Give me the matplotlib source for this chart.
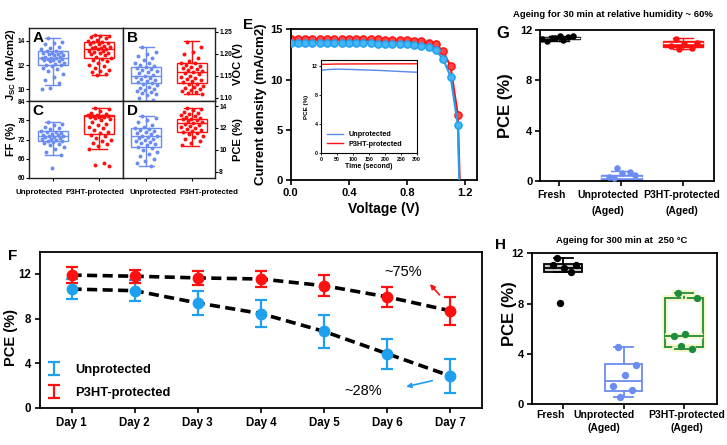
import numpy as np
import matplotlib
import matplotlib.pyplot as plt
import matplotlib.patheffects as pe
import matplotlib.transforms as mtransforms

matplotlib.use('Agg')

W, H = 727, 445

# ---------------- data ----------------
# A-D : box statistics (q1, median, q3, whisker low, whisker high) and device points
jsc_unprot_stats = (12.0, 12.6, 13.2, 10.4, 14.2)
jsc_p3ht_stats = (12.6, 13.3, 13.9, 11.2, 14.5)
jsc_unprot = [14.2, 13.9, 13.8, 13.7, 13.5, 13.4, 13.3, 13.2, 13.2, 13.1, 13.0, 13.0, 12.9, 12.9,
              12.8, 12.8, 12.7, 12.7, 12.6, 12.6, 12.6, 12.5, 12.5, 12.4, 12.4, 12.3, 12.3, 12.2,
              12.1, 12.0, 12.0, 11.9, 11.8, 11.7, 11.5, 11.3, 11.0, 10.8, 10.5, 10.1, 10.0]
jsc_p3ht = [14.5, 14.4, 14.4, 14.3, 14.2, 14.1, 14.0, 13.9, 13.9, 13.8, 13.7, 13.7, 13.6, 13.5,
            13.5, 13.4, 13.4, 13.3, 13.3, 13.2, 13.2, 13.1, 13.0, 13.0, 12.9, 12.8, 12.7, 12.6,
            12.5, 12.4, 12.3, 12.2, 12.0, 11.9, 11.8, 11.6, 11.5, 11.4, 11.3, 11.2]

voc_unprot_stats = (1.133, 1.150, 1.170, 1.092, 1.216)
voc_p3ht_stats = (1.133, 1.158, 1.178, 1.107, 1.229)
voc_unprot = [1.215, 1.205, 1.200, 1.195, 1.190, 1.185, 1.180, 1.178, 1.175, 1.172, 1.170, 1.168,
              1.165, 1.162, 1.160, 1.158, 1.155, 1.152, 1.150, 1.148, 1.145, 1.143, 1.140, 1.138,
              1.135, 1.133, 1.130, 1.128, 1.125, 1.122, 1.120, 1.118, 1.115, 1.112, 1.110, 1.108,
              1.105, 1.100, 1.095]
voc_p3ht = [1.228, 1.215, 1.205, 1.200, 1.190, 1.183, 1.180, 1.178, 1.175, 1.172, 1.170, 1.168,
            1.165, 1.162, 1.160, 1.158, 1.156, 1.153, 1.150, 1.148, 1.145, 1.142, 1.140, 1.137,
            1.135, 1.132, 1.130, 1.127, 1.125, 1.122, 1.120, 1.117, 1.115, 1.112, 1.110, 1.108]

ff_unprot_stats = (71.5, 73.0, 74.6, 67.1, 77.4)
ff_p3ht_stats = (73.8, 79.3, 79.8, 69.1, 81.9)
ff_unprot = [77.4, 77.0, 76.5, 76.0, 75.5, 75.2, 74.8, 74.5, 74.3, 74.0, 73.8, 73.6, 73.4, 73.2,
             73.0, 72.9, 72.7, 72.5, 72.3, 72.1, 71.9, 71.7, 71.5, 71.2, 71.0, 70.6, 70.2, 69.8,
             69.0, 68.2, 67.2, 63.0]
ff_p3ht = [81.9, 81.5, 81.0, 80.5, 80.0, 79.8, 79.6, 79.5, 79.4, 79.3, 79.2, 79.1, 79.0, 78.8,
           78.5, 78.0, 77.5, 77.0, 76.5, 76.0, 75.5, 75.0, 74.5, 74.0, 73.5, 73.0, 72.5, 72.0,
           71.5, 71.0, 70.5, 70.0, 69.2, 64.8, 64.2, 63.7]

pce_unprot_stats = (10.3, 11.3, 11.95, 8.55, 13.1)
pce_p3ht_stats = (11.6, 12.45, 12.85, 10.35, 13.85)
pce_unprot = [13.1, 12.9, 12.7, 12.5, 12.3, 12.1, 12.0, 11.9, 11.8, 11.7, 11.6, 11.5, 11.4, 11.3,
              11.25, 11.2, 11.1, 11.0, 10.9, 10.8, 10.7, 10.6, 10.5, 10.4, 10.3, 10.2, 10.0, 9.8,
              9.6, 9.4, 9.2, 9.0, 8.8, 8.55]
pce_p3ht = [13.85, 13.7, 13.6, 13.5, 13.4, 13.3, 13.2, 13.1, 13.0, 12.9, 12.85, 12.8, 12.7, 12.6,
            12.5, 12.45, 12.4, 12.3, 12.2, 12.1, 12.0, 11.9, 11.8, 11.7, 11.6, 11.5, 11.4, 11.3,
            11.2, 11.0, 10.8, 10.6, 10.4]

# E : J-V curves
voltage = [0.00, 0.05, 0.10, 0.15, 0.20, 0.25, 0.30, 0.35, 0.40, 0.45, 0.50, 0.55, 0.60, 0.65,
           0.70, 0.75, 0.80, 0.85, 0.90, 0.95, 1.00, 1.05, 1.10, 1.15]
j_unprot = [13.65, 13.65, 13.65, 13.64, 13.64, 13.63, 13.63, 13.62, 13.62, 13.61, 13.60, 13.60,
            13.58, 13.57, 13.55, 13.53, 13.50, 13.45, 13.35, 13.20, 12.90, 12.00, 10.30, 5.50]
j_p3ht = [14.05, 14.05, 14.05, 14.04, 14.04, 14.03, 14.03, 14.02, 14.02, 14.01, 14.00, 14.00,
          13.99, 13.98, 13.96, 13.94, 13.92, 13.88, 13.80, 13.67, 13.50, 12.80, 11.30, 6.50]
voc_unprot_cell = 1.160
voc_p3ht_cell = 1.163

# E inset : PCE tracking
time_s = [0, 25, 50, 75, 100, 125, 150, 175, 200, 225, 250, 275, 300]
track_unprot = [11.40, 11.50, 11.55, 11.52, 11.50, 11.45, 11.42, 11.38, 11.33, 11.28, 11.22, 11.17, 11.12]
track_p3ht = [12.20, 12.22, 12.25, 12.25, 12.26, 12.26, 12.27, 12.27, 12.28, 12.28, 12.28, 12.28, 12.28]

# F : stability over days
days = ['Day 1', 'Day 2', 'Day 3', 'Day 4', 'Day 5', 'Day 6', 'Day 7']
f_unprot = [10.65, 10.5, 9.4, 8.45, 6.85, 4.85, 2.85]
f_unprot_err = [0.9, 0.95, 1.1, 1.2, 1.45, 1.35, 1.5]
f_p3ht = [11.9, 11.8, 11.65, 11.55, 10.95, 9.95, 8.7]
f_p3ht_err = [0.7, 0.6, 0.6, 0.7, 0.95, 0.9, 1.25]

# G : humidity ageing
g_cats = ['Fresh', 'Unprotected\n(Aged)', 'P3HT-protected\n(Aged)']
g_stats = [(11.3, 11.38, 11.45, 11.15, 11.55), (0.1, 0.35, 0.5, 0.0, 0.8), (10.65, 10.95, 11.15, 10.5, 11.4)]
g_points = [[11.34, 11.5, 11.55, 11.13, 11.47, 11.4, 11.3, 11.2],
            [0.25, 0.45, 0.6, 0.35, 0.7, 1.05],
            [11.3, 11.0, 10.85, 10.7, 10.6, 10.5]]

# H : thermal ageing
h_cats = ['Fresh', 'Unprotected\n(Aged)', 'P3HT-protected\n(Aged)']
h_stats = [(10.54, 10.86, 11.12, 10.54, 11.6), (1.06, 1.86, 3.16, 0.53, 4.54), (4.52, 5.44, 8.41, 4.38, 8.81)]
h_points = [[11.6, 11.1, 10.85, 11.05, 10.55, 8.07],
            [4.54, 3.14, 2.29, 1.41, 1.15, 0.53],
            [8.81, 8.41, 5.57, 5.4, 4.38, 4.6]]

# ---------------- style ----------------
BLUE_BOX = '#6B8CF0'
RED = '#FF1010'
BLUE = '#1EA0EE'
GREEN = '#1E8C3C'

plt.rcParams['font.family'] = ['Liberation Sans', 'DejaVu Sans']
plt.rcParams['font.weight'] = 'bold'
plt.rcParams['axes.labelweight'] = 'bold'
plt.rcParams['mathtext.fontset'] = 'custom'
plt.rcParams['mathtext.bf'] = 'Liberation Sans:bold'
plt.rcParams['mathtext.rm'] = 'Liberation Sans:bold'
plt.rcParams['mathtext.default'] = 'bf'


def rect(l, t, r, b):
    return [l / W, 1 - b / H, (r - l) / W, (b - t) / H]


def box_stats(s):
    q1, med, q3, lo, hi = s
    return dict(q1=q1, med=med, q3=q3, whislo=lo, whishi=hi, fliers=[])


def jitter(n, spread):
    return ((np.arange(n) * 0.618034 + 0.3) % 1 - 0.5) * spread


def draw_box(ax, pos, s, pts, color, width, face='none', pt_size=8, spread=0.5, lw=1.0,
             med_color=None, effects=None):
    art = ax.bxp([box_stats(s)], positions=[pos], widths=width, showfliers=False, patch_artist=True,
                 boxprops=dict(facecolor=face, edgecolor=color, lw=lw),
                 whiskerprops=dict(color=color, lw=lw), capprops=dict(color=color, lw=lw),
                 medianprops=dict(color=med_color or color, lw=lw))
    if effects:
        for k in ('boxes', 'whiskers', 'caps', 'medians'):
            for a in art[k]:
                a.set_path_effects(effects)
    ax.scatter(pos + jitter(len(pts), spread), pts, s=pt_size, color=color, zorder=3, lw=0)


def ylabel_at(ax, text, x, y=0.5, size=9, right=False):
    if right:
        ax.yaxis.set_label_position('right')
    ax.set_ylabel(text, fontsize=size, va='center', rotation=90)
    ax.yaxis.set_label_coords(x, y)


def category_labels(ax, cats, xs, y, spacing, size=7.5):
    # labels sit a little left of the ticks, as in the original figure
    ax.set_xticklabels([])
    tr = mtransforms.blended_transform_factory(ax.transData, ax.transAxes)
    for x, c in zip(xs, cats):
        ax.text(x, y, c, transform=tr, ha='center', va='top', fontsize=size,
                linespacing=spacing, clip_on=False)


fig = plt.figure(figsize=(W / 100, H / 100), dpi=100)

# ---------------- A-D ----------------
panels = [
    ('A', rect(29, 28, 123, 101), jsc_unprot_stats, jsc_p3ht_stats, jsc_unprot, jsc_p3ht,
     (9.05, 15.05), [10, 12, 14], 'J$_{SC}$ (mA/cm2)', False, '%d'),
    ('B', rect(123, 28, 215, 101), voc_unprot_stats, voc_p3ht_stats, voc_unprot, voc_p3ht,
     (1.092, 1.259), [1.10, 1.15, 1.20, 1.25], 'VOC (V)', True, '%.2f'),
    ('C', rect(29, 101, 123, 178), ff_unprot_stats, ff_p3ht_stats, ff_unprot, ff_p3ht,
     (60, 84.1), [60, 66, 72, 78, 84], 'FF (%)', False, '%d'),
    ('D', rect(123, 101, 215, 178), pce_unprot_stats, pce_p3ht_stats, pce_unprot, pce_p3ht,
     (7.42, 14.46), [8, 10, 12, 14], 'PCE (%)', True, '%d'),
]
for letter, r, s1, s2, p1, p2, ylim, yt, lab, right, fmt in panels:
    ax = fig.add_axes(r)
    draw_box(ax, 1, s1, p1, BLUE_BOX, 0.65, spread=0.5)
    draw_box(ax, 2, s2, p2, RED, 0.65, spread=0.5)
    ax.set_xlim(0.49, 2.51)
    ax.set_ylim(*ylim)
    ax.set_yticks(yt)
    ax.yaxis.set_major_formatter(matplotlib.ticker.FormatStrFormatter(fmt))
    if right:
        ax.yaxis.tick_right()
    ax.tick_params(axis='y', labelsize=4.8, length=2, width=0.8, direction='out', pad=1)
    if letter in 'CD':
        ax.set_xticks([1, 2])
        ax.set_xticklabels([])
        ax.tick_params(axis='x', length=2.5, width=0.8)
    else:
        ax.set_xticks([])
    for sp in ax.spines.values():
        sp.set_linewidth(1.0)
        sp.set_color('#222222')
    ylabel_at(ax, lab, 1.245 if right else -0.19, size=8, right=right)
    ax.text(0.04, 0.96, letter, transform=ax.transAxes, ha='left', va='top', fontsize=11)

for x, t in [(39.5, 'Unprotected'), (95.5, 'P3HT-protected'), (153, 'Unprotected'), (209, 'P3HT-protected')]:
    fig.text(x / W, 1 - 193 / H, t, ha='center', va='center', fontsize=5.8)

# ---------------- E ----------------
ax = fig.add_axes(rect(290.7, 29.3, 476.7, 180))
ax.plot(voltage + [voc_p3ht_cell], j_p3ht + [0], color=RED, lw=1.5, marker='o', ms=5.2,
        markevery=slice(0, len(voltage)), mec=RED, mfc='#FF4545', zorder=2)
ax.plot(voltage + [voc_unprot_cell], j_unprot + [0], color=BLUE, lw=1.5, marker='o', ms=5.2,
        markevery=slice(0, len(voltage)), mec=BLUE, mfc='#45B5F5', zorder=3)
ax.set_xlim(0, 1.28)
ax.set_ylim(0, 15)
ax.set_xticks([0, 0.4, 0.8, 1.2])
ax.set_xticklabels(['0.0', '0.4', '0.8', '1.2'])
ax.set_yticks([0, 5, 10, 15])
ax.tick_params(labelsize=8, length=3.5, width=1.2, pad=2)
for sp in ax.spines.values():
    sp.set_linewidth(1.3)
ax.set_xlabel('Voltage (V)', fontsize=10, va='center')
ax.xaxis.set_label_coords(0.5, -0.19)
ylabel_at(ax, 'Current density (mA/cm2)', -0.16, size=9.5)
fig.text(243 / W, 1 - 25 / H, 'E', fontsize=11, ha='left', va='center')

ins = fig.add_axes(rect(321, 60, 416.7, 153.3))
ins.plot(time_s, track_unprot, color='#5A86EE', lw=1.0, label='Unprotected')
ins.plot(time_s, track_p3ht, color=RED, lw=1.0, label='P3HT-protected')
ins.set_xlim(0, 300)
ins.set_ylim(0, 12.8)
ins.set_xticks([0, 50, 100, 150, 200, 250, 300])
ins.set_yticks([0, 4, 8, 12])
ins.tick_params(labelsize=3.8, length=1.5, width=0.6, pad=1)
for sp in ins.spines.values():
    sp.set_linewidth(0.8)
ins.set_xlabel('Time (second)', fontsize=5, labelpad=1)
ins.set_ylabel('PCE (%)', fontsize=4.5, labelpad=2)
ins.legend(loc='lower left', frameon=False, handlelength=2.2, borderaxespad=0.4,
           labelspacing=0.3, prop=dict(size=5.2, weight='bold'))

# ---------------- F ----------------
ax = fig.add_axes(rect(40, 251.7, 481.7, 407.7))
xd = np.arange(1, len(days) + 1)
ax.plot(xd, f_p3ht, color='k', lw=2.6, ls=(0, (2.8, 1.5)), zorder=2)
ax.plot(xd, f_unprot, color='k', lw=2.6, ls=(0, (2.8, 1.5)), zorder=2)
ax.errorbar(xd, f_unprot, yerr=f_unprot_err, fmt='none', ecolor=BLUE, elinewidth=1.6, capsize=4,
            capthick=1.6, label='Unprotected', zorder=3)
ax.errorbar(xd, f_p3ht, yerr=f_p3ht_err, fmt='none', ecolor=RED, elinewidth=1.6, capsize=4,
            capthick=1.6, label='P3HT-protected', zorder=3)
ax.plot(xd, f_unprot, 'o', color=BLUE, ms=7.5, zorder=4)
ax.plot(xd, f_p3ht, 'o', color=RED, ms=7.5, zorder=4)
ax.set_xlim(0.5, 7.5)
ax.set_ylim(0, 14)
ax.set_xticks(xd)
ax.set_xticklabels(days)
ax.set_yticks([0, 4, 8, 12])
ax.tick_params(labelsize=8.3, length=3.5, width=1.2, pad=3)
for sp in ax.spines.values():
    sp.set_linewidth(1.3)
ylabel_at(ax, 'PCE (%)', -0.065, 0.45, size=10.5)
ax.legend(loc='lower left', frameon=False, fontsize=9.3, handlelength=0.8, handletextpad=1.2,
          labelspacing=0.8, borderaxespad=0.3)
ax.text(6.25, 12.2, '~75%', fontsize=10.5, fontweight='normal', ha='center', va='center')
ax.text(5.62, 1.52, '~28%', fontsize=10.5, fontweight='normal', ha='center', va='center')
ax.annotate('', xy=(6.65, 11.28), xytext=(6.86, 9.94),
            arrowprops=dict(arrowstyle='-|>', color=RED, lw=1.2, mutation_scale=7))
ax.annotate('', xy=(6.26, 1.83), xytext=(6.76, 2.48),
            arrowprops=dict(arrowstyle='-|>', color=BLUE, lw=1.2, mutation_scale=7))
fig.text(8 / W, 1 - 256 / H, 'F', fontsize=11, ha='left', va='center')

# ---------------- G ----------------
ax = fig.add_axes(rect(540, 30, 714, 181))
g_colors = ['k', BLUE_BOX, RED]
for i, (s, pts, c) in enumerate(zip(g_stats, g_points, g_colors)):
    draw_box(ax, i + 1, s, pts, c, 0.66, face=c, pt_size=22, spread=0.55, med_color='white')
ax.set_xlim(0.69, 3.5)
ax.set_ylim(0, 12)
ax.set_yticks([0, 4, 8, 12])
ax.set_xticks([1, 2, 3])
category_labels(ax, g_cats, [0.88, 1.79, 2.98], -0.06, 1.7)
ax.tick_params(axis='y', labelsize=8, length=3.5, width=1.2, pad=2)
ax.tick_params(axis='x', length=3.5, width=1.2, pad=3)
for sp in ax.spines.values():
    sp.set_linewidth(1.3)
ylabel_at(ax, 'PCE (%)', -0.2, size=12)
ax.text(0.418, 1.1, 'Ageing for 30 min at relative humidity ~ 60%', transform=ax.transAxes,
        ha='center', va='center', fontsize=6.8)
fig.text(503 / W, 1 - 33 / H, 'G', fontsize=12, ha='center', va='center')

# ---------------- H ----------------
ax = fig.add_axes(rect(531.7, 253.3, 716.7, 404))
glow = [pe.withStroke(linewidth=4, foreground='#F6F6C8')]
h_colors = ['k', BLUE_BOX, GREEN]
h_faces = ['#C8C8C8', 'none', 'none']
for i, (s, pts, c, f) in enumerate(zip(h_stats, h_points, h_colors, h_faces)):
    draw_box(ax, i + 1, s, pts, c, 0.62, face=f, pt_size=28, spread=0.5, lw=1.3,
             effects=glow if c == GREEN else None)
ax.set_xlim(0.48, 3.54)
ax.set_ylim(0, 12)
ax.set_yticks([0, 4, 8, 12])
ax.set_xticks([1, 2, 3])
category_labels(ax, h_cats, [0.785, 1.67, 3.045], -0.04, 1.35)
ax.tick_params(axis='y', labelsize=8, length=3.5, width=1.2, pad=2)
ax.tick_params(axis='x', length=3.5, width=1.2, pad=3)
for sp in ax.spines.values():
    sp.set_linewidth(1.3)
ylabel_at(ax, 'PCE (%)', -0.12, 0.6, size=12)
ax.text(0.486, 1.082, 'Ageing for 300 min at  250 °C', transform=ax.transAxes,
        ha='center', va='center', fontsize=6.8)
fig.text(500 / W, 1 - 245 / H, 'H', fontsize=11, ha='center', va='center')

fig.savefig('out.png', dpi=100)
